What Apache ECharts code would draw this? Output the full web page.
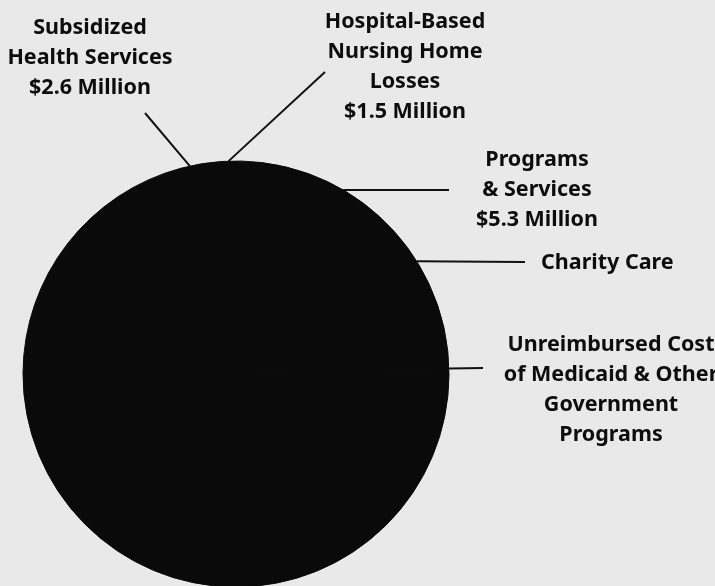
<!DOCTYPE html>
<html>
<head>
<meta charset="utf-8">
<script src="https://cdn.jsdelivr.net/npm/echarts@6/dist/echarts.min.js"></script>
<style>
  html, body { margin: 0; padding: 0; background: #e9e9e9; }
  #chart { width: 715px; height: 586px; }
</style>
</head>
<body>
<div id="chart"></div>
<script>
// community benefit categories (millions of dollars)
const categories = [
  "Subsidized\nHealth Services\n$2.6 Million",
  "Hospital-Based\nNursing Home\nLosses\n$1.5 Million",
  "Programs\n& Services\n$5.3 Million",
  "Charity Care",
  "Unreimbursed Cost\nof Medicaid & Other\nGovernment\nPrograms"
];
// last two are not printed in the picture, estimated
const values = [2.6, 1.5, 5.3, 3.0, 30.0];

// pie geometry
const CX = 236, CY = 374, R = 213;

// where each callout text sits and where its leader line ends
// angle = attach point on the rim, degrees clockwise from 12 o'clock
const callouts = [
  { x: 90,  y: 58,  align: "center", angle: -12.5, end: [145, 113] },
  { x: 405, y: 67,  align: "center", angle: -2,    end: [325, 72] },
  { x: 537, y: 190, align: "center", angle: 30.2,  end: [449, 190] },
  { x: 541, y: 263, align: "left",   angle: 58,    end: [525, 262] },
  { x: 611, y: 390, align: "center", angle: 88.5,  end: [483, 368] }
];

function rimPoint(deg) {
  const a = (deg * Math.PI) / 180;
  return [CX + R * Math.sin(a), CY - R * Math.cos(a)];
}

const chart = echarts.init(document.getElementById("chart"));

chart.setOption({
  backgroundColor: "#e9e9e9",
  animation: false,
  series: [
    {
      type: "pie",
      center: [CX, CY],
      radius: R,
      startAngle: 105,
      clockwise: true,
      avoidLabelOverlap: false,
      silent: true,
      // all slices print as the same solid black in the scan
      itemStyle: { color: "#0a0a0a", borderColor: "#0a0a0a", borderWidth: 1 },
      emphasis: { disabled: true },
      label: {
        show: true,
        position: "outside",
        color: "#0d0d0d",
        fontFamily: "Noto Sans",
        fontWeight: "bold",
        fontSize: 21.5,
        lineHeight: 30,
        formatter: "{b}"
      },
      labelLine: {
        show: true,
        length: 10,
        length2: 10,
        lineStyle: { color: "#111", width: 2 }
      },
      labelLayout: (params) => {
        const c = callouts[params.dataIndex];
        return {
          x: c.x,
          y: c.y,
          align: c.align,
          verticalAlign: "middle",
          labelLinePoints: [rimPoint(c.angle), c.end]
        };
      },
      data: categories.map((name, i) => ({ name: name, value: values[i] }))
    }
  ]
});
</script>
</body>
</html>
